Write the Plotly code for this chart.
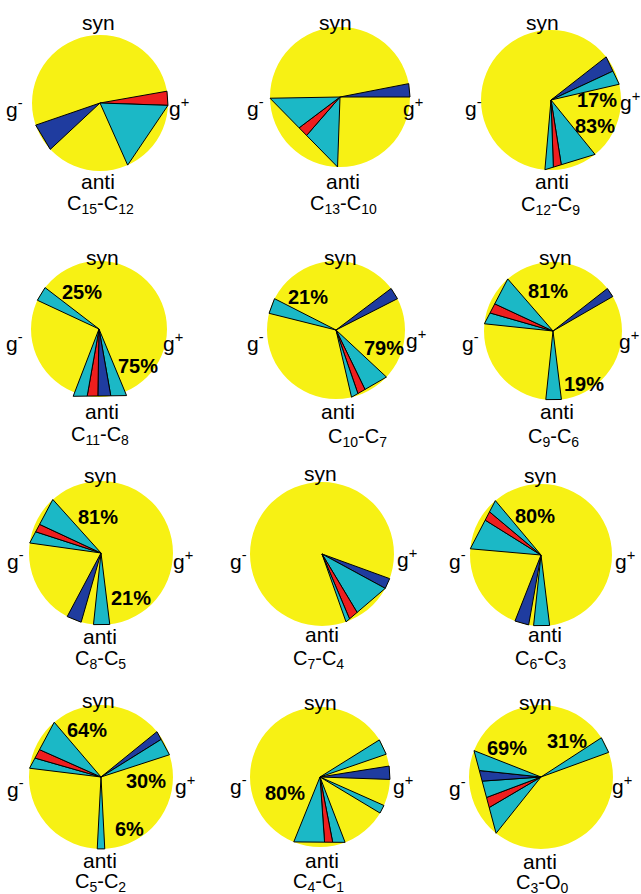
import math
import plotly.graph_objects as go

W, H = 641, 894

# ---------------- data ----------------
panel_titles = ["C<sub>15</sub>-C<sub>12</sub>", "C<sub>13</sub>-C<sub>10</sub>", "C<sub>12</sub>-C<sub>9</sub>",
                "C<sub>11</sub>-C<sub>8</sub>", "C<sub>10</sub>-C<sub>7</sub>", "C<sub>9</sub>-C<sub>6</sub>",
                "C<sub>8</sub>-C<sub>5</sub>", "C<sub>7</sub>-C<sub>4</sub>", "C<sub>6</sub>-C<sub>3</sub>",
                "C<sub>5</sub>-C<sub>2</sub>", "C<sub>4</sub>-C<sub>1</sub>", "C<sub>3</sub>-O<sub>0</sub>"]

# wedge groups: boundary angles (deg, syn=0, g+=90, anti=180, g-=270) and segment colours
edges_1 = [[80, 92], [92, 156], [227, 251]]
colors_1 = [["red"], ["cyan"], ["blue"]]
edges_2 = [[79, 90], [182, 221, 233, 269]]
colors_2 = [["blue"], ["cyan", "red", "cyan"]]
edges_3 = [[52, 65, 77], [141, 171, 178, 185]]
colors_3 = [["blue", "cyan"], ["cyan", "red", "cyan"]]
edges_4 = [[295, 307.5], [157.5, 170, 181, 190, 201]]
colors_4 = [["cyan"], ["cyan", "blue", "red", "cyan"]]
edges_5 = [[284, 297], [53, 63], [133, 154, 161, 167]]
colors_5 = [["cyan"], ["blue"], ["cyan", "red", "cyan"]]
edges_6 = [[276, 286, 295, 319], [52, 60], [173, 186]]
colors_6 = [["cyan", "red", "cyan"], ["blue"], ["cyan"]]
edges_7 = [[278, 288, 295, 318], [196, 208], [173, 186]]
colors_7 = [["cyan", "red", "cyan"], ["blue"], ["cyan"]]
edges_8 = [[110, 118.5], [118.5, 149, 157, 160.5]]
colors_8 = [["blue"], ["cyan", "red", "cyan"]]
edges_9 = [[275, 302, 310, 320], [190, 201.5], [173, 186]]
colors_9 = [["cyan", "red", "cyan"], ["blue"], ["cyan"]]
edges_10 = [[277, 286, 294, 319.5], [51, 58, 72], [177, 183]]
colors_10 = [["cyan", "red", "cyan"], ["blue", "cyan"], ["cyan"]]
edges_11 = [[58, 71], [81, 92], [114, 121], [159, 169, 176, 202]]
colors_11 = [["cyan"], ["blue"], ["cyan"], ["cyan", "red", "cyan"]]
edges_12 = [[57, 70], [218.6, 239.5, 249.4, 266, 276, 291.5]]
colors_12 = [["cyan"], ["cyan", "red", "cyan", "blue", "cyan"]]

# reach of each group's outer corners (1 = circle edge)
reach_4 = [1.0, 1.06]

# percentage labels per panel
pct_3 = ["17%", "83%"]
pct_4 = ["25%", "75%"]
pct_5 = ["21%", "79%"]
pct_6 = ["81%", "19%"]
pct_7 = ["81%", "21%"]
pct_9 = ["80%"]
pct_10 = ["64%", "30%", "6%"]
pct_11 = ["80%"]
pct_12 = ["69%", "31%"]

# ---------------- layout helpers ----------------
all_edges = [edges_1, edges_2, edges_3, edges_4, edges_5, edges_6,
             edges_7, edges_8, edges_9, edges_10, edges_11, edges_12]
all_colors = [colors_1, colors_2, colors_3, colors_4, colors_5, colors_6,
              colors_7, colors_8, colors_9, colors_10, colors_11, colors_12]
all_reach = {3: reach_4}

# circle centres / radii in pixels
centers = [(100, 103), (340, 97), (551, 100),
           (99, 329), (336, 330), (553, 331),
           (101, 553), (322, 554), (541, 555),
           (101, 777), (320, 777), (541, 777)]
radii = [68, 70, 70, 68, 69, 69, 72, 72, 71, 72, 70, 72]

# label positions (pixels)
syn_pos = [(98, 22), (335, 22), (542, 23), (102, 257), (340, 257), (555, 257),
           (100, 475), (320, 473), (540, 475), (98, 700), (320, 702), (535, 702)]
anti_pos = [(98, 182), (343, 182), (552, 182), (102, 411), (338, 411), (557, 411),
            (100, 636), (322, 634), (545, 634), (100, 860), (322, 860), (540, 861)]
title_pos = [(100, 204), (343, 204), (550, 205), (100, 435), (357, 437), (553, 437),
             (100, 659), (318, 659), (540, 659), (100, 882), (318, 882), (542, 883)]
gm_pos = [(14, 108), (255, 107), (473, 107), (14, 342), (255, 342), (470, 342),
          (15, 560), (238, 560), (457, 560), (15, 788), (238, 785), (457, 787)]
gp_pos = [(179, 107), (413, 107), (630, 101), (173, 342), (416, 339), (629, 340),
          (183, 560), (407, 558), (625, 560), (185, 785), (403, 785), (622, 785)]
pct_items = [(2, pct_3, [(597, 100), (595, 126)]),
             (3, pct_4, [(82, 292), (138, 366)]),
             (4, pct_5, [(308, 297), (384, 348)]),
             (5, pct_6, [(548, 291), (584, 384)]),
             (6, pct_7, [(98, 517), (131, 598)]),
             (8, pct_9, [(535, 516)]),
             (9, pct_10, [(87, 730), (146, 781), (129, 829)]),
             (10, pct_11, [(285, 793)]),
             (11, pct_12, [(507, 748), (567, 741)])]

COL = {"yellow": "#F7F114", "cyan": "#1BB8C6", "red": "#EE1E1E", "blue": "#1F3C9F"}
RMAX = 1.12
FONT = "Arial, Liberation Sans, sans-serif"


def chord_r(a0, r0, a1, r1, th):
    p0 = (r0 * math.sin(math.radians(a0)), r0 * math.cos(math.radians(a0)))
    p1 = (r1 * math.sin(math.radians(a1)), r1 * math.cos(math.radians(a1)))
    d = (math.sin(math.radians(th)), math.cos(math.radians(th)))
    e = (p1[0] - p0[0], p1[1] - p0[1])
    cr = lambda u, v: u[0] * v[1] - u[1] * v[0]
    return cr(p0, e) / cr(d, e)


fig = go.Figure()
layout_polars = {}
for i in range(12):
    name = "polar" if i == 0 else f"polar{i + 1}"
    sub = name
    cx, cy = centers[i]
    rp = radii[i] * RMAX
    layout_polars[name] = dict(
        domain=dict(x=[(cx - rp) / W, (cx + rp) / W], y=[1 - (cy + rp) / H, 1 - (cy - rp) / H]),
        bgcolor="rgba(0,0,0,0)",
        angularaxis=dict(rotation=90, direction="clockwise", visible=False, showgrid=False),
        radialaxis=dict(range=[0, RMAX], visible=False, showgrid=False),
    )
    # yellow disk
    fig.add_trace(go.Barpolar(r=[1], theta=[180], width=[360], base=0,
                              marker=dict(color=COL["yellow"], line=dict(width=0)),
                              subplot=sub, showlegend=False, hoverinfo="skip"))
    reach = all_reach.get(i, [1.0] * len(all_edges[i]))
    for g, (edges, cols) in enumerate(zip(all_edges[i], all_colors[i])):
        R = reach[g]
        a0, an = edges[0], edges[-1]
        for k, c in enumerate(cols):
            ta, tb = edges[k], edges[k + 1]
            ra = chord_r(a0, R, an, R, ta) if 0 < k else R
            rb = chord_r(a0, R, an, R, tb) if k + 1 < len(cols) else R
            fig.add_trace(go.Scatterpolar(
                r=[0, ra, rb, 0], theta=[ta, ta, tb, ta], mode="lines",
                fill="toself", fillcolor=COL[c],
                line=dict(color="black", width=1),
                subplot=sub, showlegend=False, hoverinfo="skip"))

ann = []


def add_text(txt, pos, size=21, bold=False):
    x, y = pos
    ann.append(dict(text=f"<b>{txt}</b>" if bold else txt, x=x / W, y=1 - y / H,
                    xref="paper", yref="paper", showarrow=False,
                    xanchor="center", yanchor="middle",
                    font=dict(family=FONT, size=size, color="black")))


for i in range(12):
    add_text("syn", syn_pos[i])
    add_text("anti", anti_pos[i])
    add_text(panel_titles[i], title_pos[i], size=20)
    add_text("g<sup>-</sup>", gm_pos[i])
    add_text("g<sup>+</sup>", gp_pos[i])
for idx, texts, poss in pct_items:
    for t, p in zip(texts, poss):
        add_text(t, p, size=20, bold=True)

fig.update_layout(width=W, height=H, margin=dict(l=0, r=0, t=0, b=0),
                  paper_bgcolor="white", plot_bgcolor="white",
                  annotations=ann, showlegend=False, **layout_polars)
fig.write_html("out.html", config={"displayModeBar": False},
               post_script="document.body.style.margin='0';document.body.style.overflow='hidden';")
